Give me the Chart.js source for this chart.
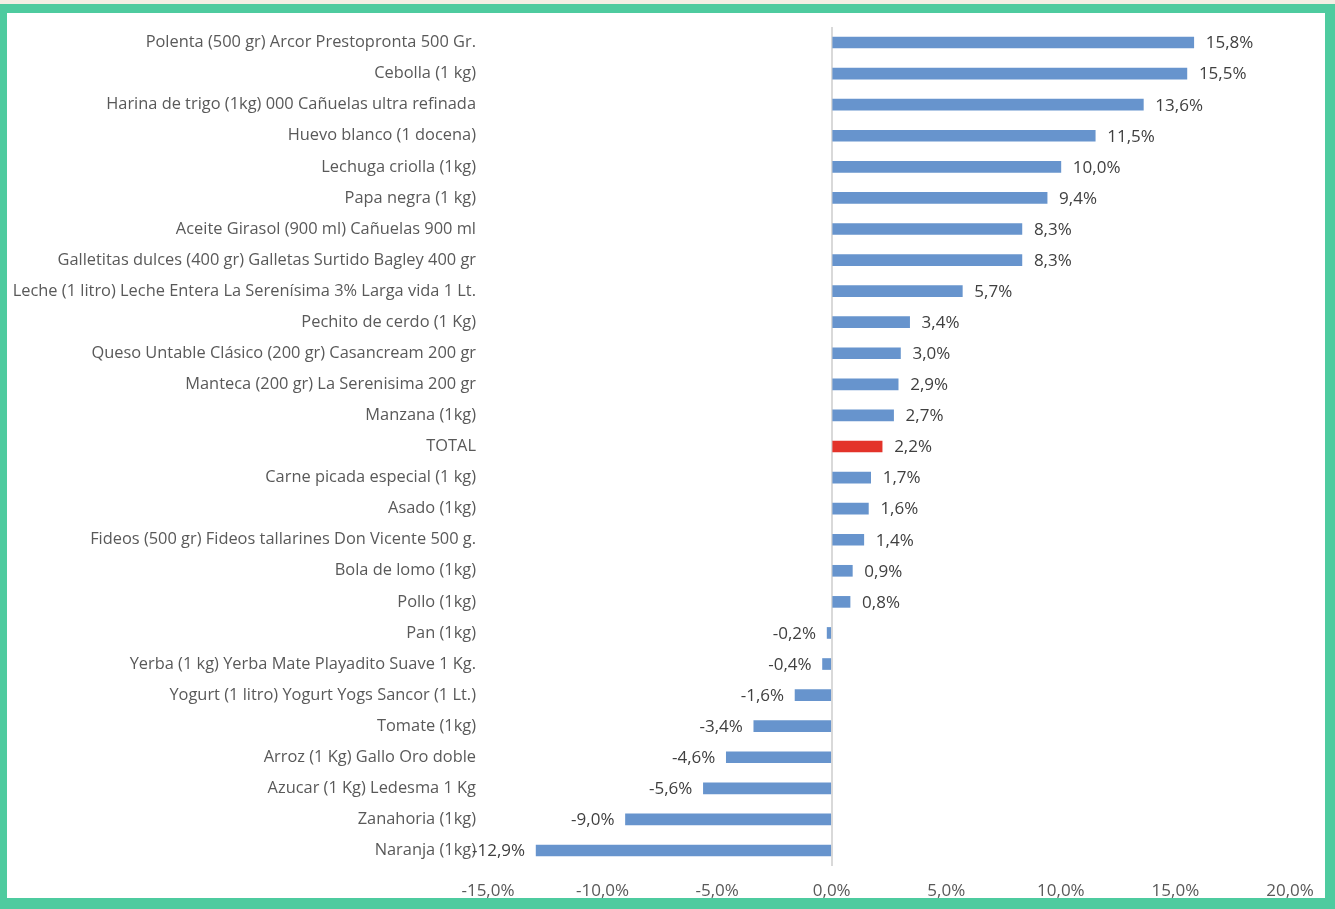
<!DOCTYPE html>
<html>
<head>
<meta charset="utf-8">
<script src="https://cdn.jsdelivr.net/npm/chart.js@4.4.0/dist/chart.umd.min.js"></script>
<style>
  html, body { margin: 0; padding: 0; background: #f2eee4; width: 1335px; height: 909px; overflow: hidden; }
  #frame { position: absolute; left: 0; top: 4px; width: 1335px; height: 905px; background: #4ecb9f; }
  #inner { position: absolute; left: 7px; top: 9px; width: 1318px; height: 885px; background: #ffffff; }
  #wrap { position: absolute; left: 0; top: 0; width: 1318px; height: 885px; }
</style>
</head>
<body>
<div id="frame"><div id="inner"><div id="wrap"><canvas id="c"></canvas></div></div></div>
<script>
const categories = [
  "Polenta (500 gr) Arcor Prestopronta 500 Gr.",
  "Cebolla (1 kg)",
  "Harina de trigo (1kg) 000 Cañuelas ultra refinada",
  "Huevo blanco (1 docena)",
  "Lechuga criolla (1kg)",
  "Papa negra (1 kg)",
  "Aceite Girasol (900 ml) Cañuelas 900 ml",
  "Galletitas dulces (400 gr) Galletas Surtido Bagley 400 gr",
  "Leche (1 litro) Leche Entera La Serenísima 3% Larga vida 1 Lt.",
  "Pechito de cerdo (1 Kg)",
  "Queso Untable Clásico (200 gr) Casancream 200 gr",
  "Manteca (200 gr) La Serenisima 200 gr",
  "Manzana (1kg)",
  "TOTAL",
  "Carne picada especial (1 kg)",
  "Asado (1kg)",
  "Fideos (500 gr) Fideos tallarines Don Vicente 500 g.",
  "Bola de lomo (1kg)",
  "Pollo (1kg)",
  "Pan (1kg)",
  "Yerba (1 kg) Yerba Mate Playadito Suave 1 Kg.",
  "Yogurt (1 litro) Yogurt Yogs Sancor (1 Lt.)",
  "Tomate (1kg)",
  "Arroz (1 Kg) Gallo Oro doble",
  "Azucar (1 Kg) Ledesma 1 Kg",
  "Zanahoria (1kg)",
  "Naranja (1kg)"
];
const variation = [15.8, 15.5, 13.6, 11.5, 10.0, 9.4, 8.3, 8.3, 5.7, 3.4, 3.0, 2.9, 2.7, 2.2, 1.7, 1.6, 1.4, 0.9, 0.8, -0.2, -0.4, -1.6, -3.4, -4.6, -5.6, -9.0, -12.9];
const highlightCategory = "TOTAL";
const xTicks = [-15, -10, -5, 0, 5, 10, 15, 20];

const FONT = "'Open Sans', 'Noto Sans', sans-serif";
const fmt = v => v.toFixed(1).replace('.', ',') + '%';

const barColors = categories.map(c => c === highlightCategory ? '#e3332a' : '#6794cd');

const labelPlugin = {
  id: 'valueLabels',
  afterDatasetsDraw(chart) {
    const ctx = chart.ctx;
    const meta = chart.getDatasetMeta(0);
    ctx.save();
    ctx.font = '17px ' + FONT;
    ctx.fillStyle = '#404040';
    ctx.textBaseline = 'middle';
    meta.data.forEach((bar, i) => {
      const v = variation[i];
      const y = bar.y + 1;
      if (v >= 0) {
        ctx.textAlign = 'left';
        ctx.fillText(fmt(v), bar.x + 12, y);
      } else {
        ctx.textAlign = 'right';
        ctx.fillText(fmt(v), bar.x - 11, y);
      }
    });
    ctx.restore();
  }
};

new Chart(document.getElementById('c'), {
  type: 'bar',
  data: {
    labels: categories,
    datasets: [{
      data: variation,
      backgroundColor: barColors,
      borderWidth: 0,
      barThickness: 11
    }]
  },
  options: {
    indexAxis: 'y',
    responsive: true,
    maintainAspectRatio: false,
    animation: false,
    layout: { padding: { left: 0, right: 35, top: 14, bottom: 0 } },
    plugins: { legend: { display: false }, tooltip: { enabled: false } },
    scales: {
      x: {
        min: -15, max: 20,
        afterBuildTicks(scale) { scale.ticks = xTicks.map(v => ({ value: v })); },
        afterFit(scale) {
          scale.height = 32;
          scale.paddingLeft = 0; scale.paddingRight = 0;
        },
        grid: {
          drawTicks: false,
          color: c => (c.tick && c.tick.value === 0) ? '#d9d9d9' : 'rgba(0,0,0,0)',
          lineWidth: 2
        },
        border: { display: false },
        ticks: {
          padding: 15,
          color: '#595959',
          font: { family: FONT, size: 17 },
          maxRotation: 0,
          callback: v => fmt(v)
        }
      },
      y: {
        afterFit(scale) {
          scale.width = 481;
          scale.paddingTop = 0; scale.paddingBottom = 0;
        },
        grid: { display: false, drawTicks: false },
        border: { display: false },
        ticks: {
          padding: 12,
          color: '#595959',
          font: { family: FONT, size: 16.4 },
          autoSkip: false
        }
      }
    }
  },
  plugins: [labelPlugin]
});
</script>
</body>
</html>
